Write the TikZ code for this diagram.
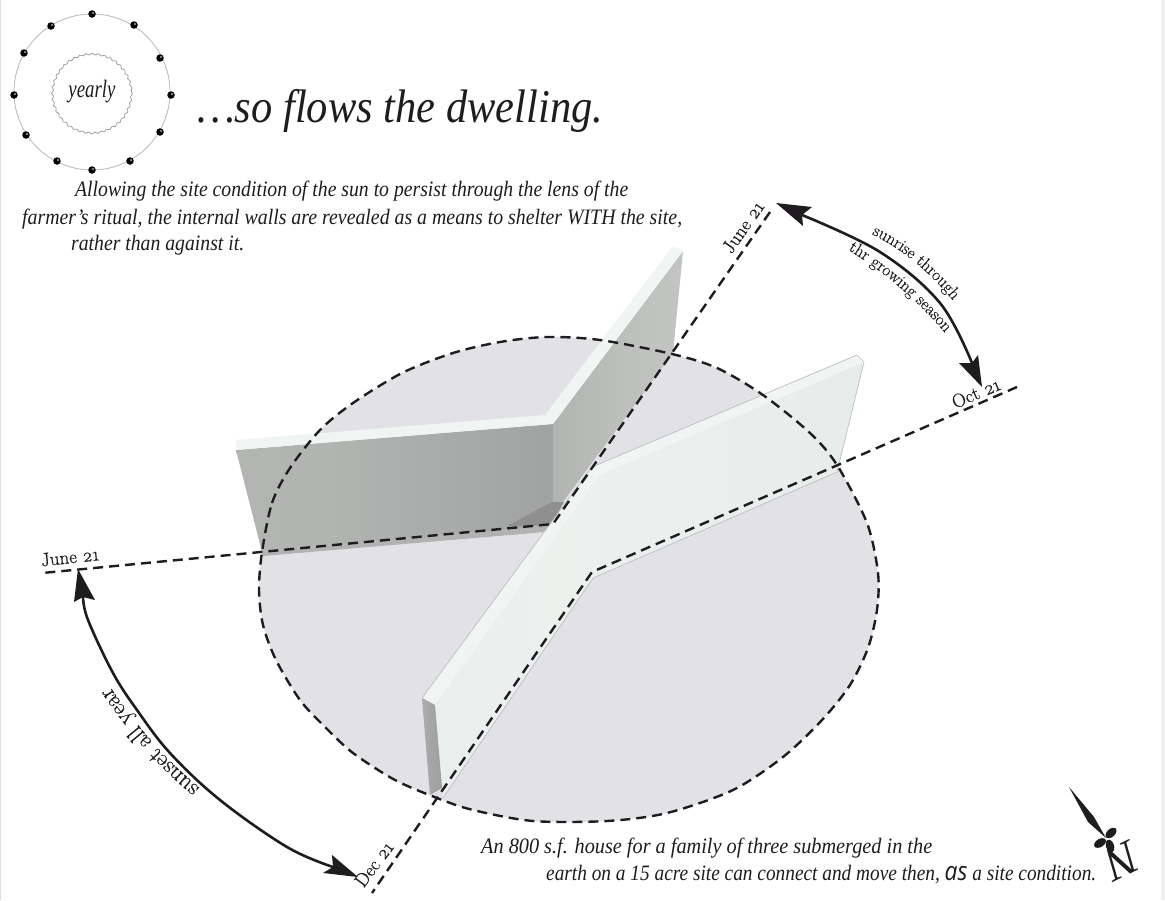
\documentclass[tikz,border=0pt]{standalone}
\usepackage{graphicx}
\usepackage{fontspec}
\setmainfont{Liberation Serif}
\setsansfont{Open Sans}
\newfontfamily\lmf{Latin Modern Roman}[Numbers=OldStyle,FakeBold=0.35]
\usetikzlibrary{decorations.pathmorphing,decorations.text,shapes.geometric}
\definecolor{ink}{HTML}{1E1C1E}
\definecolor{ground}{HTML}{E2E1E5}
\definecolor{capw}{HTML}{F0F4F2}
\definecolor{edgeg}{HTML}{BDBFBE}
\pgfdeclarehorizontalshading{wallA}{100bp}{
  rgb(0bp)=(.71,.72,.71);
  rgb(40bp)=(.695,.705,.695);
  rgb(67bp)=(.645,.655,.65);
  rgb(88bp)=(.60,.61,.605);
  rgb(100bp)=(.55,.56,.555)}
\pgfdeclarehorizontalshading{wallB}{100bp}{
  rgb(0bp)=(.60,.61,.605);
  rgb(22bp)=(.69,.70,.685);
  rgb(52bp)=(.74,.75,.735);
  rgb(100bp)=(.785,.795,.785)}
\pgfdeclarehorizontalshading{wallC}{100bp}{
  rgb(0bp)=(.90,.925,.915);
  rgb(40bp)=(.925,.945,.935);
  rgb(70bp)=(.905,.93,.92);
  rgb(100bp)=(.88,.905,.895)}
\tikzset{
  x=1pt,y=-1pt,
  dash line/.style={draw=ink,line width=2.4pt,dash pattern=on 10pt off 6pt},
  head/.style={fill=ink,draw=none},
  shaft/.style={draw=ink,line width=2.6pt},
  txt/.style={text=ink,inner sep=0pt,anchor=base west},
  date/.style={text=ink,inner sep=0pt,font=\fontsize{19}{19}\selectfont\lmf},
  bead/.style={circle,fill=black,minimum size=7.5pt,inner sep=0pt},
  lobe/.style={ellipse,fill=ink,inner sep=0pt,minimum width=13pt,minimum height=8pt},
}
\newcommand\gtext[2]{|\fontsize{#1}{#1}\selectfont\lmf\color{ink}|#2}
\newcommand\outline{
 (262,552)(272,503)(290,468)(320,430)(353,403)(402,373)(453,353)(500,342)(547,337)
 (600,340)(672,354)(717,368)(763,395)(810,433)(837,465)(867,523)(878,573)(877,610)
 (868,648)(850,685)(822,720)(783,757)(733,790)(667,813)(607,821)(533,821)(473,810)(437,798)
 (395,780)(353,753)(325,727)(300,700)(276,660)(263,625)(259,590)}
\begin{document}
\begin{tikzpicture}
\useasboundingbox (0,0) rectangle (1165,900);
\fill[white] (0,0) rectangle (1165,900);
\fill[black!6] (1160.5,0) rectangle (1165,900);
\fill[black!12] (0,0) rectangle (1,900);

% ground
\path[fill=ground] plot[smooth cycle,tension=.5] coordinates {\outline};

% back wall
\fill[black!30] (263,556) -- (545,532) -- (553,525) -- (262,552) -- cycle;
\path[shading=wallA] (236,450) -- (553,424) -- (553,525) -- (262,552) -- cycle;
\path[shading=wallB] (553,424) -- (683,251) -- (673,353) -- (563,502) -- (553,502) -- cycle;
\fill[black!44] (507,526) -- (552,502) -- (564,502) -- (551,525) -- cycle;
\fill[capw] (236,440) -- (545,415) -- (673,246) -- (683,251) -- (553,424) -- (236,450) -- cycle;

% front wall
\path[shading=wallC] (435,705) -- (600,475) -- (864,362) -- (837,472) -- (593,578) -- (443,798) -- cycle;
\fill[capw] (422,698) -- (592,467) -- (857,355) -- (864,362) -- (600,475) -- (435,705) -- cycle;
\draw[edgeg,line width=.7pt] (422,698) -- (592,467) -- (857,355) -- (864,362) -- (837,472) -- (593,578) -- (443,798);
\path[left color=black!33,right color=black!38] (422,698) -- (435,705) -- (442,788) -- (430,795) -- cycle;

% dashed outline and sun lines
\path[dash line] plot[smooth cycle,tension=.5] coordinates {\outline};
\coordinate (jt) at (770,212);
\coordinate (jb) at (553,524);
\coordinate (jl) at (42,573);
\coordinate (ot) at (1017,387);
\coordinate (ob) at (592,572);
\coordinate (dl) at (372,893);
\draw[dash line] (jt) -- (jb) -- (jl);
\draw[dash line] (ot) -- (ob) -- (dl);

% arrows
\draw[shaft] plot[smooth,tension=.6] coordinates {(802,215)(880,252)(940,303)(972,363)};
\fill[head] (776,203) -- (812,207) -- (802,215) -- (803,226) -- cycle;
\fill[head] (982,387) -- (959,363) -- (972,363) -- (978,355) -- cycle;
\draw[shaft] plot[smooth,tension=.6] coordinates {(83,597)(88,620)(113,673)(137,710)(170,753)(220,800)(287,847)(333,867)};
\fill[head] (78,569) -- (95,600) -- (83,597) -- (74,602) -- cycle;
\fill[head] (358,877) -- (323,873) -- (333,867) -- (332,855) -- cycle;

% date labels
\node[date,rotate=55] (d1) at (743,227) {June 21};
\node[date,rotate=23] (d2) at (976,393) {Oct 21};
\node[date,rotate=6] (d3) at (70,557) {June 21};
\node[date,rotate=53] (d4) at (374,864) {Dec 21};

% curved labels
\path[decorate,decoration={text along path,text align=center,text={\gtext{17}{sunrise through}}}]
  (869,233) .. controls (900,247) and (930,272) .. (955,303);
\path[decorate,decoration={text along path,text align=center,text={\gtext{17}{thr growing season}}}]
  (848,250) .. controls (885,272) and (920,303) .. (945,333);
\path[decorate,decoration={text along path,text align=center,text={\gtext{23.5}{sunset all year}}}]
  (204,791) .. controls (170,765) and (135,725) .. (107,682);

% yearly wheel
\draw[black!28,line width=.8pt] (92,92) circle[radius=78];
\draw[black!40,line width=.7pt,decorate,decoration={snake,segment length=6.2pt,amplitude=.9pt}] (92,92) circle[radius=39.5];
\foreach \n/\x/\y in {a/92/14,b/134/25,c/160/58,d/171/95,e/160/132,f/130/161,g/92/170,h/57/161,i/26/135,j/14/95,k/24/53,l/51/26}{
  \node[bead] (b\n) at (\x,\y) {};
  \fill[white] (\x+1,\y-1) circle[radius=.9];
}
\node[text=ink,inner sep=0pt] (yearly) at (92,92) {\fontsize{25}{25}\selectfont\itshape\resizebox{47pt}{\height}{yearly}};

% headings and text
\node[txt] (title) at (197,122) {\fontsize{47}{47}\selectfont\itshape\resizebox{406pt}{\height}{\dots so flows the dwelling.}};
\node[txt] (l1) at (75,196) {\fontsize{22}{22}\selectfont\itshape\resizebox{553pt}{\height}{Allowing the site condition of the sun to persist through the lens of the}};
\node[txt] (l2) at (22,224) {\fontsize{22}{22}\selectfont\itshape\resizebox{660pt}{\height}{farmer's ritual, the internal walls are revealed as a means to shelter WITH the site,}};
\node[txt] (l3) at (71,250) {\fontsize{22}{22}\selectfont\itshape\resizebox{173pt}{\height}{rather than against it.}};
\node[txt] (l4) at (481,853) {\fontsize{22}{22}\selectfont\itshape\resizebox{451pt}{\height}{An 800 s.f. house for a family of three submerged in the}};
\node[txt] (l5) at (546,880) {\fontsize{22}{22}\selectfont\itshape\resizebox{550pt}{\height}{earth on a 15 acre site can connect and move then, {\fontsize{26}{26}\selectfont\sffamily\itshape as} a site condition.}};

% north mark
\fill[ink] (1069,787) -- (1094,817) -- (1106,838) -- (1088,822) -- cycle;
\node[lobe,rotate=42] (p1) at (1111,833) {};
\node[lobe,rotate=32] (p2) at (1100,843) {};
\node[lobe,rotate=-72] (p3) at (1110,846) {};
\node[text=ink,inner sep=0pt,rotate=206] (north) at (1122,861) {\fontsize{48}{48}\selectfont\itshape N};
\end{tikzpicture}
\end{document}
